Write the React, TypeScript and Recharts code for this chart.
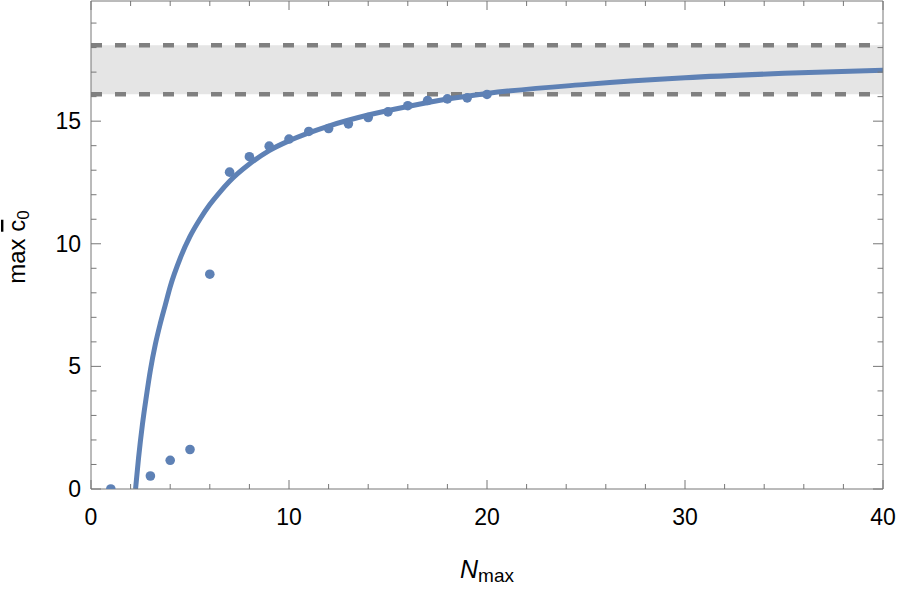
import React from 'react'
import {
  ComposedChart,
  Line,
  Scatter,
  XAxis,
  YAxis,
  ReferenceArea,
  ReferenceLine,
} from 'recharts'

// measured points (N_max, max c0)
const nValues = [1, 3, 4, 5, 6, 7, 8, 9, 10, 11, 12, 13, 14, 15, 16, 17, 18, 19, 20]
const c0Values = [0, 0.53, 1.17, 1.61, 8.76, 12.92, 13.55, 13.98, 14.27, 14.58, 14.7, 14.89, 15.15, 15.38, 15.63, 15.84, 15.91, 15.95, 16.09]

// fitted curve
const fitN = [2.25, 2.4, 2.6, 2.8, 3, 3.25, 3.5, 3.75, 4, 4.5, 5, 5.5, 6, 6.5, 7, 8, 9, 10, 12, 14, 16, 18, 20, 25, 30, 35, 40]
const fitC0 = [0, 1.25, 2.65, 3.8, 4.85, 5.9, 6.75, 7.5, 8.25, 9.4, 10.3, 11.0, 11.6, 12.1, 12.55, 13.25, 13.8, 14.2, 14.8, 15.25, 15.6, 15.9, 16.13, 16.5, 16.77, 16.95, 17.08]

// bound band
const bandLow = 16.1
const bandHigh = 18.1

const xTicks = [0, 2, 4, 6, 8, 10, 12, 14, 16, 18, 20, 22, 24, 26, 28, 30, 32, 34, 36, 38, 40]
const yTicks = [0, 1, 2, 3, 4, 5, 6, 7, 8, 9, 10, 11, 12, 13, 14, 15, 16, 17, 18, 19]

const points = nValues.map((x, i) => ({ x, y: c0Values[i] }))
const curve = fitN.map((x, i) => ({ x, y: fitC0[i] }))

const BLUE = '#5e81b5'
const FRAME = '#777777'
const FONT = '"Liberation Sans", Arial, sans-serif'

const BottomTick = (props: any) => {
  const { x, y, payload } = props
  const major = payload.value % 10 === 0
  return (
    <g>
      <line x1={x} x2={x} y1={y} y2={y - (major ? 9 : 5)} stroke={FRAME} />
      {major && (
        <text x={x} y={y + 36} textAnchor="middle" fontSize={23} fontFamily={FONT} fill="#000">
          {payload.value}
        </text>
      )}
    </g>
  )
}

const TopTick = (props: any) => {
  const { x, y, payload } = props
  const major = payload.value % 10 === 0
  return <line x1={x} x2={x} y1={y} y2={y + (major ? 9 : 5)} stroke={FRAME} />
}

const LeftTick = (props: any) => {
  const { x, y, payload } = props
  const major = payload.value % 5 === 0
  return (
    <g>
      <line x1={x} x2={x + (major ? 10 : 5.5)} y1={y} y2={y} stroke={FRAME} />
      {major && (
        <text x={x - 10} y={y + 8} textAnchor="end" fontSize={23} fontFamily={FONT} fill="#000">
          {payload.value}
        </text>
      )}
    </g>
  )
}

const RightTick = (props: any) => {
  const { x, y, payload } = props
  const major = payload.value % 5 === 0
  return <line x1={x} x2={x - (major ? 10 : 5.5)} y1={y} y2={y} stroke={FRAME} />
}

const XLabel = (props: any) => {
  const vb = props.viewBox
  const cx = vb.x + vb.width / 2
  return (
    <text x={cx - 27} y={vb.y + 89} fontFamily={FONT} fill="#000">
      <tspan fontSize={25} fontStyle="italic">N</tspan>
      <tspan fontSize={19} dy={4}>max</tspan>
    </text>
  )
}

const YLabel = (props: any) => {
  const vb = props.viewBox
  const cy = vb.y + vb.height / 2
  return (
    <text transform={`translate(25, ${cy + 2}) rotate(-90)`} textAnchor="middle" fontFamily={FONT} fill="#000">
      <tspan fontSize={24}>max </tspan>
      <tspan fontSize={24} textDecoration="overline">c</tspan>
      <tspan fontSize={17} dy={4}>0</tspan>
    </text>
  )
}

const Dot = (props: any) => <circle cx={props.cx} cy={props.cy} r={4.8} fill={BLUE} />

export default function App() {
  return (
    <div style={{ position: 'absolute', left: 0, top: 0, background: '#fff' }}>
      <ComposedChart width={897} height={590} margin={{ top: 0, right: 0, bottom: 0, left: 0 }}>
        <XAxis
          dataKey="x"
          type="number"
          domain={[0, 40]}
          ticks={xTicks}
          interval={0}
          height={101}
          tickSize={0}
          tickMargin={0}
          tickLine={false}
          tick={<BottomTick />}
          stroke={FRAME}
          allowDataOverflow
          label={<XLabel />}
        />
        <XAxis
          xAxisId="top"
          orientation="top"
          dataKey="x"
          type="number"
          domain={[0, 40]}
          ticks={xTicks}
          interval={0}
          height={1}
          tickSize={0}
          tickMargin={0}
          tickLine={false}
          tick={<TopTick />}
          stroke={FRAME}
          allowDataOverflow
        />
        <YAxis
          dataKey="y"
          type="number"
          domain={[0, 19.9]}
          ticks={yTicks}
          interval={0}
          width={91}
          tickSize={0}
          tickMargin={0}
          tickLine={false}
          tick={<LeftTick />}
          stroke={FRAME}
          allowDataOverflow
          label={<YLabel />}
        />
        <YAxis
          yAxisId="right"
          orientation="right"
          dataKey="y"
          type="number"
          domain={[0, 19.9]}
          ticks={yTicks}
          interval={0}
          width={14}
          tickSize={0}
          tickMargin={0}
          tickLine={false}
          tick={<RightTick />}
          stroke={FRAME}
          allowDataOverflow
        />
        <ReferenceArea y1={bandLow} y2={bandHigh} fill="#e5e5e5" fillOpacity={1} stroke="none" />
        <ReferenceLine y={bandLow} stroke="#808080" strokeWidth={4.5} strokeDasharray="11 13" />
        <ReferenceLine y={bandHigh} stroke="#808080" strokeWidth={4.5} strokeDasharray="11 13" />
        <Line
          data={curve}
          dataKey="y"
          type="monotone"
          stroke={BLUE}
          strokeWidth={5}
          dot={false}
          activeDot={false}
          isAnimationActive={false}
        />
        <Scatter data={points} dataKey="y" fill={BLUE} shape={<Dot />} isAnimationActive={false} />
      </ComposedChart>
    </div>
  )
}
